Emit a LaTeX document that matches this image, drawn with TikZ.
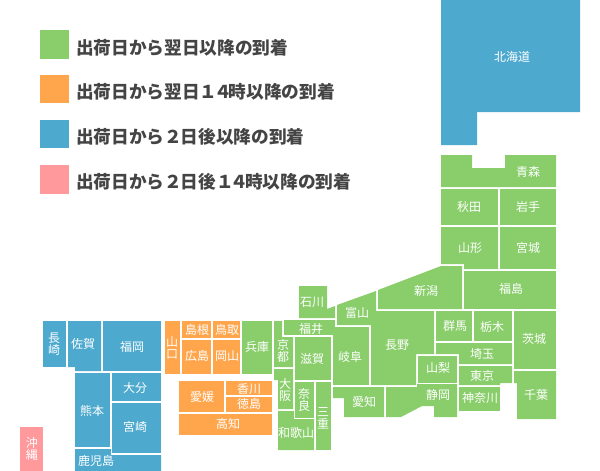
\documentclass[tikz,border=0pt]{standalone}
\usepackage{fontspec}
\newfontfamily\cjk{Noto Sans CJK JP}
\definecolor{nextday}{HTML}{89CE6B}
\definecolor{nextdaypm}{HTML}{FFA64D}
\definecolor{twoday}{HTML}{4DA9CE}
\definecolor{twodaypm}{HTML}{FF999B}
\definecolor{legendtext}{HTML}{444444}
\newcommand{\digitkern}[1]{#1\kern-.18em}
\tikzset{
    pref/.style={inner sep=0pt, align=center, text=white, font=\cjk\fontsize{9}{9}\selectfont},
    legend/.style={anchor=west, inner sep=0pt, text=legendtext, font=\cjk\bfseries\fontsize{13.25}{15}\selectfont}
}
\begin{document}
\begin{tikzpicture}[x=0.75pt,y=-0.75pt]
    \useasboundingbox (0,0) rectangle (600,471);
    % legend
    \fill[nextday] (40,30) rectangle (69,59);
    \fill[nextdaypm] (40,75) rectangle (69,103);
    \fill[twoday] (40,120) rectangle (69,148);
    \fill[twodaypm] (40,165) rectangle (69,194);
    \node[legend] (lgnextday) at (76,47.5) {出荷日から翌日以降の到着};
    \node[legend] (lgnextdaypm) at (76,92) {出荷日から翌日\digitkern{１}\digitkern{４}時以降の到着};
    \node[legend] (lgtwoday) at (76,137) {出荷日から２\kern-.09em日後以降の到着};
    \node[legend] (lgtwodaypm) at (76,182) {出荷日から２\kern-.09em日後\digitkern{１}\digitkern{４}時以降の到着};
    % hokkaido, okinawa
    \fill[twoday] (441,0) -- (580,0) -- (580,112) -- (477,112) -- (477,145) -- (441,145) -- cycle;
    \fill[twodaypm] (20,427) rectangle (43,471);
    % tohoku
    \begin{scope}[nextday]
        \fill (441,155) -- (472,155) -- (472,168) -- (505,168) -- (505,155) -- (556,155) -- (556,187) -- (441,187) -- cycle;
        \fill (441,189) rectangle (498,225);
        \fill (500,189) rectangle (556,225);
        \fill (441,227) -- (498,227) -- (498,269) -- (464,269) -- (464,264) -- (441,264) -- cycle;
        \fill (500,227) rectangle (556,269);
        \fill (464,271) rectangle (556,309);
    \end{scope}
    % kanto, chubu
    \begin{scope}[nextday]
        \fill (378,290) -- (441,266) -- (462,266) -- (462,309) -- (378,309) -- cycle;
        \fill (436,311) rectangle (472,341);
        \fill (474,311) rectangle (512,341);
        \fill (514,311) rectangle (556,369);
        \fill (436,343) -- (512,343) -- (512,364) -- (459,364) -- (459,354) -- (436,354) -- cycle;
        \fill (459,366) -- (512,366) -- (512,383) -- (500,383) -- (500,385) -- (459,385) -- cycle;
        \fill (459,387) rectangle (500,411);
        \fill (514,371) -- (556,371) -- (556,419) -- (517,419) -- (517,383) -- (514,383) -- cycle;
        \fill (418,356) rectangle (457,383);
        \fill (371,311) -- (434,311) -- (434,354) -- (416,354) -- (416,385) -- (371,385) -- cycle;
        \fill (386,387) -- (417,387) -- (417,384) -- (457,384) -- (457,417) -- (434,417) -- (434,406) -- (422,406) -- (401,417) -- (386,417) -- cycle;
        \fill (333,387) -- (384,387) -- (384,417) -- (344,417) -- (344,398) -- (333,398) -- cycle;
        \fill (333,327) rectangle (369,385);
        \fill (337,305) -- (376,291) -- (376,325) -- (337,325) -- cycle;
        \fill (299,286) -- (327,286) -- (327,309) -- (335,306) -- (335,318) -- (299,318) -- cycle;
        \fill (284,320) rectangle (335,335);
    \end{scope}
    % kansai
    \begin{scope}[nextday]
        \fill (274,321) -- (282,321) -- (282,337) -- (293,337) -- (293,367) -- (274,367) -- cycle;
        \fill (295,337) rectangle (331,380);
        \fill (274,369) -- (293,369) -- (293,409) -- (278,409) -- (278,380) -- (274,380) -- cycle;
        \fill (295,382) rectangle (314,418);
        \fill (316,382) rectangle (331,450);
        \fill (278,411) -- (294,411) -- (294,419) -- (314,419) -- (314,450) -- (278,450) -- cycle;
        \fill (242,321) rectangle (272,374);
    \end{scope}
    % chugoku, shikoku
    \begin{scope}[nextdaypm]
        \fill (165,321) rectangle (180,374);
        \fill (182,321) rectangle (211,338);
        \fill (213,321) rectangle (240,338);
        \fill (182,340) rectangle (211,374);
        \fill (213,340) rectangle (240,374);
        \fill (179,381) rectangle (224,412);
        \fill (226,381) rectangle (272,395);
        \fill (226,397) rectangle (272,412);
        \fill (179,414) rectangle (272,435);
    \end{scope}
    % kyushu
    \begin{scope}[twoday]
        \fill (43,321) rectangle (66,367);
        \fill (68,321) -- (101,321) -- (101,371) -- (75,371) -- (75,367) -- (68,367) -- cycle;
        \fill (103,321) rectangle (161,371);
        \fill (75,373) rectangle (110,447);
        \fill (112,373) rectangle (161,401);
        \fill (112,403) rectangle (161,453);
        \fill (75,449) -- (111,449) -- (111,455) -- (161,455) -- (161,471) -- (75,471) -- cycle;
    \end{scope}
    % labels
    \node[pref] (hokkaido) at (512,57) {北海道};
    \node[pref] (aomori) at (528,172) {青森};
    \node[pref] (akita) at (469,207) {秋田};
    \node[pref] (iwate) at (528,207) {岩手};
    \node[pref] (yamagata) at (470,248) {山形};
    \node[pref] (miyagi) at (528,248) {宮城};
    \node[pref] (fukushima) at (511,289) {福島};
    \node[pref] (niigata) at (426,291) {新潟};
    \node[pref] (gunma) at (455,326) {群馬};
    \node[pref] (tochigi) at (492,327) {栃木};
    \node[pref] (ibaraki) at (534,339) {茨城};
    \node[pref] (saitama) at (482,354) {埼玉};
    \node[pref] (tokyo) at (482,376) {東京};
    \node[pref] (yamanashi) at (438,368) {山梨};
    \node[pref] (shizuoka) at (438,395) {静岡};
    \node[pref] (kanagawa) at (480,398) {神奈川};
    \node[pref] (chiba) at (536,395) {千葉};
    \node[pref] (nagano) at (397,345) {長野};
    \node[pref] (toyama) at (357,313) {富山};
    \node[pref] (ishikawa) at (312,302) {石川};
    \node[pref] (fukui) at (311,329) {福井};
    \node[pref] (gifu) at (350,357) {岐阜};
    \node[pref] (aichi) at (364,402) {愛知};
    \node[pref] (shiga) at (312,359) {滋賀};
    \node[pref] (kyoto) at (283,351) {京\\都};
    \node[pref] (osaka) at (285,390) {大\\阪};
    \node[pref] (nara) at (304,400) {奈\\良};
    \node[pref] (mie) at (323,418) {三\\重};
    \node[pref] (wakayama) at (296,433) {和歌山};
    \node[pref] (hyogo) at (257,347) {兵庫};
    \node[pref] (okayama) at (227,356) {岡山};
    \node[pref] (hiroshima) at (197,356) {広島};
    \node[pref] (tottori) at (227,330) {鳥取};
    \node[pref] (shimane) at (197,330) {島根};
    \node[pref] (yamaguchi) at (172,348) {山\\口};
    \node[pref] (ehime) at (202,397) {愛媛};
    \node[pref] (kagawa) at (249,389) {香川};
    \node[pref] (tokushima) at (249,404) {徳島};
    \node[pref] (kochi) at (228,424) {高知};
    \node[pref] (fukuoka) at (132,347) {福岡};
    \node[pref] (saga) at (83,344) {佐賀};
    \node[pref] (nagasaki) at (54,344) {長\\崎};
    \node[pref] (oita) at (135,388) {大分};
    \node[pref] (kumamoto) at (92,411) {熊本};
    \node[pref] (miyazaki) at (135,427) {宮崎};
    \node[pref] (kagoshima) at (96,461) {鹿児島};
    \node[pref] (okinawa) at (32,449) {沖\\縄};
\end{tikzpicture}
\end{document}
